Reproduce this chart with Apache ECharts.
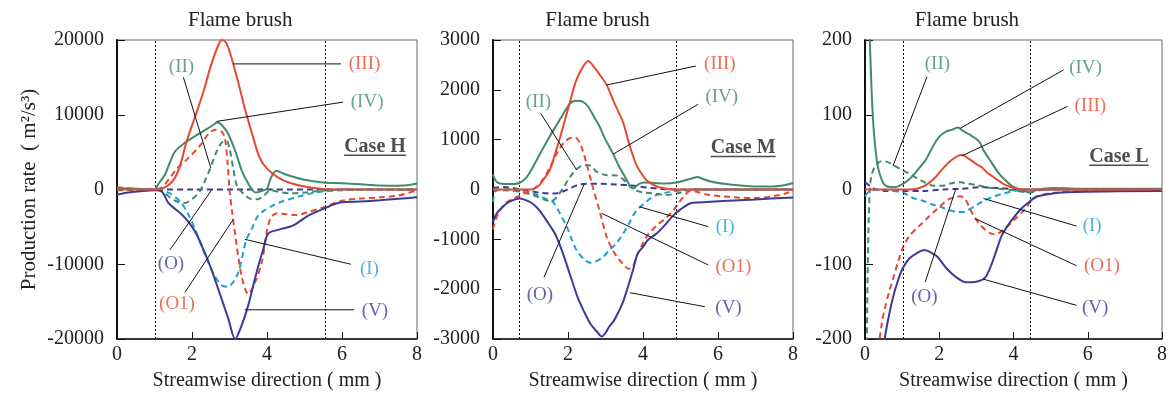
<!DOCTYPE html>
<html><head><meta charset="utf-8">
<script src="https://cdn.jsdelivr.net/npm/echarts@6/dist/echarts.min.js"></script>
<style>html,body{margin:0;padding:0;background:#fff}#c{width:1170px;height:396px}</style>
</head><body><div id="c"></div>
<script>
// ---------------- data ----------------
const X_TICKS = [0, 2, 4, 6, 8];
const Y_RANGES = [[-20000, 20000, 10000], [-3000, 3000, 1000], [-200, 200, 100]];
const CASES = ['Case H', 'Case M', 'Case L'];
const BRUSH_H = [1.02, 5.55];
const BRUSH_M = [0.69, 4.88];
const BRUSH_L = [1.03, 4.46];

// Case H
const H_I = [[0,100],[0.5,0],[1.0,0],[1.2,-100],[1.4,-500],[1.6,-1200],[1.72,-1800],[1.9,-3300],[2.08,-5300],[2.25,-7500],[2.44,-9800],[2.6,-11500],[2.79,-12800],[2.95,-13000],[3.1,-12400],[3.24,-11000],[3.35,-8800],[3.45,-6700],[3.6,-5200],[3.75,-3600],[3.9,-2900],[4.1,-2300],[4.35,-1700],[4.8,-1000],[5.15,-550],[5.5,-280],[6,-100],[6.5,0],[8,0]];
const H_II = [[0,-100],[0.5,-50],[1.0,0],[1.2,-200],[1.4,-1000],[1.6,-1600],[1.8,-1800],[2.0,-1300],[2.2,-300],[2.35,1200],[2.5,3000],[2.65,5000],[2.8,6300],[2.92,6500],[3.0,5500],[3.1,2800],[3.2,500],[3.4,-700],[3.6,-1300],[3.75,-1300],[3.9,-900],[4.1,-100],[4.3,-300],[4.6,-500],[5.0,-400],[5.5,-150],[6,0],[8,0]];
const H_III = [[0,0],[1.0,0],[1.2,100],[1.4,700],[1.55,1600],[1.7,3500],[1.86,6500],[2.1,10000],[2.3,13000],[2.5,16500],[2.7,19300],[2.8,20000],[2.9,19700],[3.0,18500],[3.1,16800],[3.25,14000],[3.4,11000],[3.6,7500],[3.8,4300],[4.0,2800],[4.3,1600],[4.6,900],[5.0,400],[5.5,80],[6,0],[8,0]];
const H_IV = [[0,200],[0.5,100],[1.0,0],[1.1,700],[1.28,2000],[1.4,3500],[1.55,5100],[1.8,6200],[2.17,7400],[2.4,8100],[2.61,8800],[2.66,9000],[2.8,8600],[2.97,7400],[3.15,5200],[3.33,2500],[3.5,800],[3.7,-400],[3.85,-200],[4.0,100],[4.1,1500],[4.25,2500],[4.5,2000],[5.0,1300],[5.5,950],[6.0,850],[6.5,700],[7.0,550],[7.5,500],[7.8,600],[8.0,800]];
const H_V = [[0,-700],[0.3,-400],[0.6,-250],[1.0,-100],[1.2,-300],[1.37,-1800],[1.55,-2600],[1.72,-3300],[1.9,-4300],[2.1,-5800],[2.26,-7500],[2.45,-9800],[2.61,-12000],[2.8,-14800],[2.97,-17300],[3.15,-20000],[3.3,-18500],[3.5,-15500],[3.65,-12500],[3.77,-10200],[3.9,-8000],[4.03,-5900],[4.3,-5400],[4.7,-4800],[5.1,-3500],[5.5,-2600],[5.95,-1750],[6.5,-1600],[7.0,-1450],[7.5,-1250],[8.0,-1050]];
const H_O = [[0,-100],[0.4,0],[2,0],[4,0],[6,0],[8,0]];
const H_O1 = [[0,300],[0.5,100],[1.0,0],[1.2,300],[1.4,1500],[1.6,2800],[1.86,4000],[2.2,5800],[2.45,7500],[2.62,8000],[2.8,7700],[2.88,6800],[2.95,3500],[3.0,0],[3.07,-3000],[3.15,-6000],[3.32,-11500],[3.5,-14000],[3.65,-12800],[3.86,-9800],[4.0,-5500],[4.1,-3800],[4.25,-3200],[4.5,-3300],[4.8,-3400],[5.1,-3000],[5.5,-2400],[6.0,-1500],[6.5,-1200],[7.0,-1050],[7.5,-800],[8.0,-100]];

// Case M
const M_I = [[0,0],[0.4,-20],[0.8,-50],[1.1,-90],[1.3,-150],[1.45,-200],[1.61,-260],[1.8,-500],[1.97,-750],[2.1,-1000],[2.23,-1220],[2.4,-1380],[2.59,-1470],[2.75,-1440],[2.94,-1350],[3.1,-1220],[3.3,-1070],[3.5,-850],[3.65,-650],[3.8,-450],[4.0,-300],[4.2,-180],[4.4,-100],[4.7,-50],[5.0,-20],[5.5,0],[8,0]];
const M_II = [[0,-250],[0.05,-50],[0.2,0],[0.5,0],[0.8,-60],[1.1,-120],[1.35,-200],[1.55,-240],[1.7,-150],[1.87,30],[2.05,250],[2.25,420],[2.45,490],[2.6,480],[2.76,360],[3.0,290],[3.3,280],[3.45,220],[3.6,100],[3.75,0],[3.95,-50],[4.3,-80],[4.6,-110],[4.9,-80],[5.2,-20],[5.5,0],[8,0]];
const M_III = [[0,0],[1.0,0],[1.2,60],[1.35,200],[1.52,400],[1.65,700],[1.79,1050],[1.92,1400],[2.05,1750],[2.2,2150],[2.35,2400],[2.54,2580],[2.7,2450],[2.85,2300],[3.03,2100],[3.2,1800],[3.35,1550],[3.47,1350],[3.6,1000],[3.7,750],[3.83,480],[3.95,330],[4.1,180],[4.37,60],[4.7,10],[5,0],[8,0]];
const M_IV = [[0,300],[0.1,150],[0.3,110],[0.5,110],[0.7,130],[0.9,250],[1.1,500],[1.3,780],[1.5,1050],[1.7,1300],[1.9,1550],[2.05,1720],[2.2,1780],[2.4,1760],[2.55,1650],[2.7,1450],[2.85,1250],[3.0,1000],[3.2,720],[3.35,480],[3.5,280],[3.65,80],[3.75,20],[3.85,90],[4.0,140],[4.3,130],[4.6,120],[4.9,140],[5.1,180],[5.3,220],[5.45,250],[5.6,210],[5.8,160],[6.2,110],[6.6,80],[7.0,60],[7.4,60],[7.8,90],[8.0,130]];
const M_V = [[0,-650],[0.1,-480],[0.27,-340],[0.45,-240],[0.72,-180],[0.95,-240],[1.1,-310],[1.25,-430],[1.45,-650],[1.6,-820],[1.7,-960],[1.85,-1250],[2.05,-1700],[2.25,-2150],[2.41,-2420],[2.6,-2700],[2.77,-2850],[2.9,-2950],[3.0,-2880],[3.1,-2750],[3.21,-2650],[3.35,-2450],[3.47,-2250],[3.6,-1950],[3.74,-1600],[3.85,-1300],[4.0,-1150],[4.15,-1000],[4.37,-880],[4.6,-700],[4.81,-520],[5.0,-400],[5.25,-280],[5.5,-260],[6.14,-230],[7.0,-200],[8.0,-160]];
const M_O = [[0,30],[0.3,50],[0.6,20],[0.9,-20],[1.2,-60],[1.5,-80],[1.7,-75],[1.9,-30],[2.1,40],[2.3,100],[2.5,115],[2.9,115],[3.3,100],[3.7,80],[4.1,40],[4.5,10],[4.8,0],[6,0],[8,0]];
const M_O1 = [[0,-800],[0.1,-550],[0.3,-300],[0.5,-200],[0.7,-130],[0.9,-60],[1.1,20],[1.3,170],[1.5,420],[1.7,720],[1.9,950],[2.1,1040],[2.2,1040],[2.35,870],[2.5,500],[2.65,80],[2.85,-450],[3.03,-950],[3.15,-1150],[3.3,-1350],[3.45,-1480],[3.61,-1590],[3.72,-1560],[3.85,-1300],[4.0,-1080],[4.14,-900],[4.37,-720],[4.6,-580],[4.81,-420],[4.95,-270],[5.1,-130],[5.25,-30],[5.4,-40],[5.7,-100],[6.14,-140],[6.6,-165],[7.03,-170],[7.5,-130],[7.8,-80],[8,-20]];

// Case L
const L_I = [[0,-9],[0.1,-3],[0.2,-1],[0.4,0],[0.7,-1],[0.9,-3],[1.06,-5],[1.28,-11],[1.55,-15],[1.82,-20],[2.08,-24],[2.3,-28],[2.5,-30],[2.65,-30],[2.79,-27],[3.0,-21],[3.24,-14],[3.5,-9],[3.68,-6],[4.03,-2],[4.38,0],[6,0],[8,0]];
const L_II = [[0,-500],[0.05,-200],[0.09,-60],[0.13,0],[0.18,20],[0.3,33],[0.45,38],[0.6,37],[0.75,33],[1.0,26],[1.2,21],[1.4,15],[1.64,9],[1.85,5],[2.08,5],[2.3,8],[2.53,10],[2.75,8],[3.0,6],[3.3,3],[3.6,1],[4.0,-1],[4.43,-4],[4.7,-1],[5,0],[8,0]];
const L_III = [[0,0],[1.2,0],[1.4,1],[1.64,6],[1.85,14],[2.08,27],[2.3,38],[2.5,45],[2.62,46],[2.8,41],[3.0,34],[3.14,30],[3.3,22],[3.45,17],[3.59,12],[3.75,7],[3.94,3],[4.1,1],[4.3,0],[8,0]];
const L_IV = [[0,900],[0.08,400],[0.12,220],[0.18,130],[0.22,90],[0.27,60],[0.33,35],[0.4,20],[0.5,8],[0.6,4],[0.8,3],[1.0,7],[1.2,14],[1.4,25],[1.64,40],[1.8,55],[1.99,70],[2.2,78],[2.35,80],[2.5,83],[2.65,78],[2.8,74],[3.06,65],[3.2,52],[3.41,36],[3.6,22],[3.77,13],[3.95,5],[4.12,1],[4.3,-2],[4.43,-4],[4.6,-1],[4.8,1],[5.1,2],[6,1],[7,1],[8,1]];
const L_V = [[0,-600],[0.3,-300],[0.5,-210],[0.6,-180],[0.75,-145],[0.9,-120],[1.02,-105],[1.2,-92],[1.37,-86],[1.6,-81],[1.8,-85],[1.95,-90],[2.17,-104],[2.35,-113],[2.53,-120],[2.7,-124],[2.9,-124],[3.1,-122],[3.25,-117],[3.41,-100],[3.55,-80],[3.68,-62],[3.85,-48],[4.03,-36],[4.2,-26],[4.39,-18],[4.6,-10],[4.85,-7],[5.3,-4],[6,-3],[8,-2]];
const L_O = [[0,10],[0.15,4],[0.3,0],[0.6,-2],[1.0,-2],[1.6,-2],[2.1,0],[2.6,1],[3.1,3],[3.6,2],[4.2,0],[6,0],[8,0]];
const L_O1 = [[0,-600],[0.2,-350],[0.35,-220],[0.45,-180],[0.53,-160],[0.66,-135],[0.75,-120],[0.9,-95],[1.02,-78],[1.2,-62],[1.46,-49],[1.7,-37],[1.9,-28],[2.1,-19],[2.26,-13],[2.45,-10],[2.55,-9],[2.7,-13],[2.85,-28],[2.95,-37],[3.1,-47],[3.24,-54],[3.4,-59],[3.5,-60],[3.65,-57],[3.8,-51],[4.03,-40],[4.3,-27],[4.5,-14],[4.7,-8],[5.0,-5],[6,-2],[8,-1]];

// annotations: [label, textX, textY, fromX, fromY, toX, toY]
const H_NOTES = [
  ['(III)', 6.6, 16800, 5.97, 16800, 3.1, 16800],
  ['(IV)', 6.67, 11770, 6.03, 11690, 2.66, 9110],
  ['(II)', 1.72, 16440, 1.77, 15020, 2.5, 2890],
  ['(O)', 1.44, -10000, 1.41, -8090, 2.52, -90],
  ['(O1)', 1.6, -15330, 1.81, -13780, 3.1, -4000],
  ['(I)', 6.73, -10580, 6.24, -10000, 3.41, -6670],
  ['(V)', 6.88, -16220, 6.32, -16090, 3.41, -16090]
];
const M_NOTES = [
  ['(III)', 6.05, 2512, 5.41, 2478, 3.03, 2097],
  ['(IV)', 6.1, 1862, 5.47, 1710, 3.21, 712],
  ['(II)', 1.21, 1762, 1.27, 1529, 2.23, 391],
  ['(O)', 1.25, -2117, 1.36, -1762, 2.43, 104],
  ['(O1)', 6.41, -1549, 5.74, -1515, 2.9, -478],
  ['(I)', 6.19, -746, 5.74, -746, 3.9, -345],
  ['(V)', 6.28, -2384, 5.65, -2352, 3.65, -2071]
];
const L_NOTES = [
  ['(II)', 1.95, 167.6, 1.67, 151, 0.75, 31],
  ['(IV)', 5.94, 163, 5.35, 160, 2.57, 82],
  ['(III)', 6.07, 112, 5.45, 111, 2.61, 45],
  ['(I)', 6.12, -49, 5.7, -49, 3.19, -12],
  ['(O1)', 6.38, -102, 5.7, -102, 2.97, -39],
  ['(V)', 6.2, -158, 5.7, -155, 3.19, -120],
  ['(O)', 1.6, -144, 1.62, -124, 2.44, 0]
];
const CASE_POS = [[6.88, 5600], [6.67, 815], [6.84, 42.5]];

// ---------------- styling ----------------
const FONT = '"Liberation Serif", "DejaVu Serif", serif';
const RED = '#e8482e', GREEN = '#3f8c6c', NAVY = '#3b3b98', CYAN = '#1d9fd6';
const COLOR = {'(I)': CYAN, '(II)': GREEN, '(III)': RED, '(IV)': GREEN, '(V)': NAVY, '(O)': NAVY, '(O1)': RED};
const GRIDS = [
  {left: 117, top: 40, width: 300, height: 300},
  {left: 493, top: 40, width: 300, height: 299},
  {left: 865, top: 40, width: 301, height: 300}
];

const PANELS = [
  {curves: {I: H_I, II: H_II, III: H_III, IV: H_IV, V: H_V, O: H_O, O1: H_O1}, notes: H_NOTES, brush: BRUSH_H},
  {curves: {I: M_I, II: M_II, III: M_III, IV: M_IV, V: M_V, O: M_O, O1: M_O1}, notes: M_NOTES, brush: BRUSH_M},
  {curves: {I: L_I, II: L_II, III: L_III, IV: L_IV, V: L_V, O: L_O, O1: L_O1}, notes: L_NOTES, brush: BRUSH_L}
];
const CURVE_STYLE = {
  O:  {color: NAVY, dashed: true, z: 2},
  I:  {color: CYAN, dashed: true, z: 3},
  II: {color: GREEN, dashed: true, z: 3},
  O1: {color: RED, dashed: true, z: 4},
  IV: {color: GREEN, dashed: false, z: 5},
  V:  {color: NAVY, dashed: false, z: 5},
  III:{color: RED, dashed: false, z: 6}
};

function textWidth(t, font) {
  const ctx = document.createElement('canvas').getContext('2d');
  ctx.font = font;
  return ctx.measureText(t).width;
}

const grid = [], xAxis = [], yAxis = [], series = [];
PANELS.forEach((p, i) => {
  grid.push(Object.assign({show: true, borderColor: '#666', borderWidth: 1, backgroundColor: 'transparent'}, GRIDS[i]));
  xAxis.push({
    type: 'value', gridIndex: i, min: X_TICKS[0], max: X_TICKS[X_TICKS.length - 1], interval: X_TICKS[1] - X_TICKS[0],
    axisLine: {show: true, onZero: false, lineStyle: {color: '#111', width: 1.5}},
    axisTick: {show: true, inside: true, length: 7, lineStyle: {color: '#111', width: 1}},
    axisLabel: {fontFamily: FONT, fontSize: 20, color: '#222', margin: 6, formatter: v => String(v)},
    splitLine: {show: false},
    name: 'Streamwise direction ( mm )', nameLocation: 'middle', nameGap: 32,
    nameTextStyle: {fontFamily: FONT, fontSize: 20, color: '#222'}
  });
  const yr = Y_RANGES[i];
  const ya = {
    type: 'value', gridIndex: i, min: yr[0], max: yr[1], interval: yr[2],
    axisLine: {show: true, onZero: false, lineStyle: {color: '#111', width: 2}},
    axisTick: {show: true, inside: true, length: 8, lineStyle: {color: '#111', width: 1}},
    axisLabel: {fontFamily: FONT, fontSize: 20, color: '#222', margin: 13, formatter: v => String(v)},
    splitLine: {show: false}
  };
  if (i === 0) {
    ya.name = 'Production rate  ( m\u00b2/s\u00b3)';
    ya.nameLocation = 'middle';
    ya.nameGap = 77;
    ya.nameRotate = 90;
    ya.nameTextStyle = {fontFamily: FONT, fontSize: 21, color: '#222'};
  }
  yAxis.push(ya);

  let first = true;
  Object.keys(CURVE_STYLE).forEach(k => {
    const st = CURVE_STYLE[k];
    const s = {
      type: 'line', xAxisIndex: i, yAxisIndex: i, data: p.curves[k],
      showSymbol: false, symbol: 'none', smooth: 0.3, clip: true, silent: true, z: st.z,
      lineStyle: {color: st.color, width: 2, type: st.dashed ? [6, 4] : 'solid'}
    };
    if (first) {
      s.markLine = {
        silent: true, symbol: 'none', animation: false,
        label: {show: false},
        lineStyle: {color: '#111', width: 1, type: [2, 2]},
        data: p.brush.map(v => ({xAxis: v}))
      };
      s.markArea = {
        silent: true, animation: false,
        itemStyle: {color: 'rgba(0,0,0,0)'},
        label: {show: true, position: 'top', distance: 9, formatter: 'Flame brush',
                fontFamily: FONT, fontSize: 21, color: '#222'},
        data: [[{xAxis: p.brush[0]}, {xAxis: p.brush[1]}]]
      };
      first = false;
    }
    series.push(s);
  });

  // leader lines
  p.notes.forEach(n => {
    series.push({
      type: 'line', xAxisIndex: i, yAxisIndex: i, silent: true, z: 8,
      data: [[n[3], n[4]], [n[5], n[6]]], showSymbol: false, symbol: 'none',
      lineStyle: {color: '#111', width: 1}
    });
  });
  // labels
  const cw = textWidth(CASES[i], 'bold 20px ' + FONT);
  series.push({
    type: 'scatter', xAxisIndex: i, yAxisIndex: i, silent: true, z: 9,
    symbolSize: 1, itemStyle: {color: 'rgba(0,0,0,0)'},
    data: p.notes.map(n => ({
      value: [n[1], n[2]],
      label: {show: true, position: 'inside', formatter: n[0], color: COLOR[n[0]],
              fontFamily: FONT, fontSize: 19}
    })).concat([{
      value: CASE_POS[i],
      label: {show: true, position: 'inside', formatter: '{a|' + CASES[i] + '}\n{u| }',
        rich: {
          a: {fontFamily: FONT, fontSize: 20, fontWeight: 'bold', color: '#222', lineHeight: 15, align: 'center'},
          u: {width: cw, height: 1.5, lineHeight: 2, backgroundColor: '#222', fontSize: 1, align: 'center'}
        }}
    }])
  });
});

const chart = echarts.init(document.getElementById('c'), null, {renderer: 'canvas'});
chart.setOption({
  animation: false,
  backgroundColor: '#fff',
  grid, xAxis, yAxis, series
});
</script></body></html>
